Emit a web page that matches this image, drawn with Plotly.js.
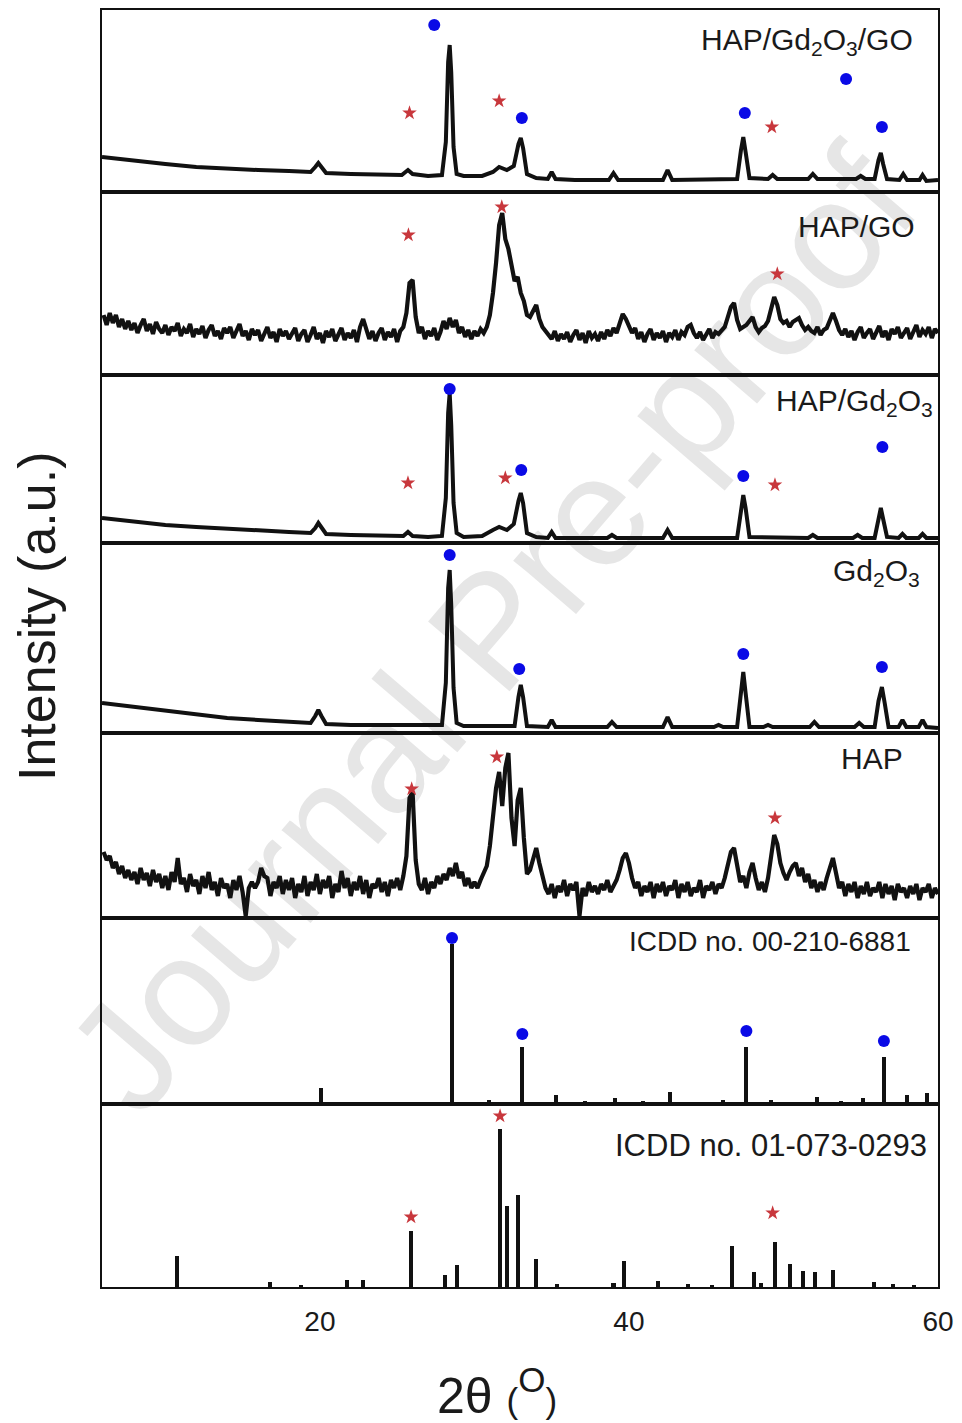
<!DOCTYPE html>
<html><head><meta charset="utf-8">
<script src="https://cdn.plot.ly/plotly-3.0.1.min.js"></script>
<style>html,body{margin:0;padding:0;background:#fff}#chart{width:962px;height:1423px}</style>
</head><body><div id="chart"></div>
<script>
// ---------------- DATA (intensities in arbitrary units) ----------------
const panelLabels = [
  "HAP/Gd<sub>2</sub>O<sub>3</sub>/GO",
  "HAP/GO",
  "HAP/Gd<sub>2</sub>O<sub>3</sub>",
  "Gd<sub>2</sub>O<sub>3</sub>",
  "HAP",
  "ICDD no. 00-210-6881",
  "ICDD no. 01-073-0293"
];
const xTickVals = [20, 40, 60];
const xTickText = ["20", "40", "60"];

// Panel 1: HAP/Gd2O3/GO
const ternary2theta = [5.9,7,8,9,10,12,14,16,18,19.4,19.7,19.9,20.1,20.4,22,24,25.3,25.7,26.0,27,27.9,28.15,28.3,28.4,28.5,28.65,28.85,29.3,30.5,31.2,31.6,32.1,32.55,32.85,33.0,33.15,33.4,34,34.75,35.0,35.25,36.5,38.7,39.0,39.3,42.2,42.5,42.8,45,47.0,47.25,47.4,47.55,47.8,49.0,49.3,49.6,51.6,51.9,52.2,54.7,55.0,55.3,55.9,56.15,56.3,56.45,56.7,57.5,57.75,58.0,58.8,59.0,59.25,60];
const ternaryI = [35,33,31,29,28,25,23,22,21,20,25,29,25,19,18,17,17,22,18,16,17,50,130,147,120,45,18,16,16,20,25,22,26,48,54,44,18,14,13,20,13,12,12,19,12,12,22,12,12,13,42,55,40,14,13,17,13,13,18,13,13,16,13,13,32,39,28,13,12,18,12,12,17,11,12];

// Noisy scans sampled every 0.2 deg starting at 6.0 deg
const scanStart = 6.0, scanStep = 0.2;
// Panel 2: HAP/GO
const hapGoI = [
 60,50,62,52,60,48,56,46,54,45,
 52,42,50,56,44,51,41,53,46,42,
 50,40,48,44,52,39,46,42,51,38,
 46,41,49,37,45,50,39,44,36,47,
 42,48,37,43,51,39,44,35,46,40,
 45,34,42,48,37,43,33,46,39,44,
 36,42,47,34,41,45,33,40,48,36,
 42,32,44,38,46,34,41,47,35,42,
 37,45,33,48,56,46,36,44,34,42,
 47,35,43,38,46,33,44,48,62,92,
 95,58,42,48,36,44,39,47,35,43,
 54,46,57,48,55,42,48,38,45,36,
 44,39,46,42,48,60,82,112,150,162,
 136,126,112,94,98,82,74,60,58,64,
 70,56,48,44,40,36,44,34,41,36,
 43,33,40,45,35,42,32,44,37,41,
 34,43,36,45,39,47,42,52,61,56,
 50,42,47,36,43,33,41,46,35,42,
 37,44,33,42,38,45,35,43,40,48,
 50,42,37,43,35,41,46,37,43,41,
 45,48,58,68,72,55,46,48,50,54,
 58,48,43,47,49,54,66,78,70,56,
 52,54,48,53,55,57,50,45,48,44,
 42,48,40,45,47,56,62,54,45,40,
 46,38,44,35,43,48,37,42,46,36,
 43,49,38,44,35,46,41,48,37,43,
 47,36,44,50,38,45,41,48,37,46,
 42];

// Panel 3: HAP/Gd2O3
const hapGd2theta = [5.9,7,8,10,12,14,16,18,19.4,19.7,19.9,20.1,20.4,22,24,25.4,25.7,26.0,27,27.9,28.15,28.3,28.4,28.5,28.65,28.85,29.3,30.5,31.2,31.6,32.1,32.55,32.85,33.0,33.15,33.4,34.0,34.75,35.0,35.25,38.6,38.9,39.2,42.2,42.5,42.8,47.0,47.25,47.4,47.55,47.8,51.6,51.9,52.2,54.5,54.8,55.1,55.9,56.15,56.3,56.45,56.7,57.45,57.7,57.95,58.75,59.0,59.25,60];
const hapGdI = [25,23,21,18,16,14,13,11,10,15,20,15,9,8,7,7,11,7,6,7,45,130,150,118,40,10,6,7,13,16,13,19,42,50,40,10,6,5,11,5,5,8,5,5,13,5,5,35,48,35,6,5,8,5,5,8,5,5,27,35,24,6,5,9,5,5,9,5,5];

// Panel 4: Gd2O3
const gd2theta = [5.9,7,8,10,12,14,16,18,19.4,19.7,19.9,20.1,20.4,22,24,26,27.9,28.15,28.3,28.4,28.5,28.65,28.85,29.3,31,32.6,32.85,33.0,33.15,33.4,34.75,35.0,35.25,38.6,38.9,39.2,42.2,42.5,42.8,45.5,45.8,46.1,47.0,47.25,47.4,47.55,47.8,48.7,49.0,49.3,51.7,52.0,52.3,54.6,54.9,55.2,55.9,56.15,56.37,56.55,56.8,57.45,57.7,57.95,58.75,59.0,59.25,60];
const gdI = [30,28,26,22,18,15,13,11,10,17,23,17,9,8,8,8,8,50,145,163,128,45,10,7,7,7,36,48,36,7,6,13,6,6,11,6,6,16,6,6,8,6,6,40,61,40,6,6,8,6,6,11,6,6,10,6,6,32,46,30,6,6,13,6,6,13,6,5];

// Panel 5: HAP
const hapI = [
 66,58,62,50,56,44,52,40,48,38,
 46,34,50,38,45,32,48,36,44,30,
 42,28,46,36,60,34,40,26,44,32,
 38,24,42,30,46,28,36,22,40,30,
 34,20,38,28,42,26,2,30,36,30,
 36,50,42,40,22,36,30,42,24,38,
 28,40,20,34,26,42,22,36,28,44,
 24,38,30,42,20,34,26,47,30,40,
 22,36,28,42,24,38,20,34,30,40,
 26,36,22,38,30,40,28,42,62,120,
 126,58,34,28,40,24,36,30,42,34,
 44,38,50,42,55,40,46,32,40,30,
 36,30,38,44,52,72,100,130,146,112,
 150,165,100,72,118,130,80,44,48,60,
 70,55,40,30,24,34,20,32,26,38,
 22,34,28,36,2,30,22,36,26,32,
 24,34,28,38,26,32,38,48,60,65,
 55,40,30,36,22,32,26,36,20,34,
 26,36,22,32,28,38,20,34,26,36,
 22,30,26,38,20,32,28,36,24,34,
 30,40,52,66,70,50,36,42,30,46,
 55,40,28,36,26,40,62,83,74,55,
 45,38,46,52,55,42,50,36,44,30,
 38,26,36,28,40,50,60,45,30,36,
 22,34,26,36,20,32,24,36,22,30,
 26,36,20,34,24,32,18,34,26,30,
 20,32,24,34,18,30,26,34,20,30,
 24];

// Panel 6: ICDD 00-210-6881 (Gd2O3 reference sticks)
const gdRef2theta = [16.28,20.06,23.3,28.55,30.93,33.1,35.25,37.16,39.07,40.94,42.67,46.06,47.6,49.2,50.76,52.2,53.7,55.16,56.5,57.97,59.3];
const gdRefI = [2,16,1,160,4,57,9,3,6,3,12,4,57,4,2,7,3,6,47,9,11];

// Panel 7: ICDD 01-073-0293 (HAP reference sticks)
const hapRef2theta = [10.73,16.77,18.75,21.73,22.8,25.9,28.09,28.88,31.66,32.14,32.85,33.96,35.35,39.0,39.7,41.9,43.85,45.36,46.67,48.07,48.53,49.45,50.45,51.24,52.03,53.2,55.88,57.07,58.45];
const hapRefI = [31,5,2,7,7,56,12,22,158,81,92,28,3,4,26,6,3,2,41,15,4,45,23,16,15,17,5,3,2];

// Phase markers (blue dot = Gd2O3, red star = HAP) per panel
const dots2theta = [[27.4,33.07,47.5,54.05,56.37],[],[28.4,33.03,47.4,56.4],[28.4,32.9,47.4,56.37],[],[28.55,33.1,47.6,56.5],[]];
const dotsY      = [[167,74,79,113,65],[],[154,73,67,96],[178,64,79,66],[],[166,70,73,63],[]];
const stars2theta = [[25.8,31.6,49.25],[25.73,31.77,49.6],[25.7,32.0,49.45],[],[25.94,31.45,49.45],[],[31.66,25.9,49.3]];
const starsY      = [[79,91,65],[140,168,101],[60,65,58],[],[129,161,100],[],[171,70,74]];

// ---------------- LAYOUT / STYLE ----------------
const FONT = "Liberation Sans, Arial, Helvetica, sans-serif";
const INK = "#111111";
const edgesPx = [10, 192, 375, 543, 733, 918, 1104, 1287];
const plotBottomPx = 1287, plotHeightPx = 1277, plotLeftPx = 102, plotWidthPx = 836;
const xRange = [5.9, 60];
const labelX = [58.52, 58.65, 59.8, 58.97, 57.87, 58.4, 59.43];
const labelY = [151, 149, 141, 161, 160, 163, 142];
const labelSize = [30, 30, 30, 30, 30, 28, 31];

const ax = k => (k === 1 ? "" : String(k));
const traces = [];

// smooth scans
[[1, ternary2theta, ternaryI], [3, hapGd2theta, hapGdI], [4, gd2theta, gdI]].forEach(([k, x, y]) => {
  traces.push({type: "scatter", mode: "lines", x: x, y: y, line: {color: INK, width: 4, shape: "linear"},
    xaxis: "x" + ax(k), yaxis: "y" + ax(k), hoverinfo: "skip"});
});
// noisy scans
[[2, hapGoI], [5, hapI]].forEach(([k, y]) => {
  traces.push({type: "scatter", mode: "lines", x0: scanStart, dx: scanStep, y: y,
    line: {color: INK, width: 4.2, shape: "linear"},
    xaxis: "x" + ax(k), yaxis: "y" + ax(k), hoverinfo: "skip"});
});
// reference sticks
[[6, gdRef2theta, gdRefI], [7, hapRef2theta, hapRefI]].forEach(([k, x, y]) => {
  traces.push({type: "bar", x: x, y: y, width: 0.26, marker: {color: INK, line: {width: 0}},
    xaxis: "x" + ax(k), yaxis: "y" + ax(k), hoverinfo: "skip"});
});
// markers
for (let k = 1; k <= 7; k++) {
  if (dots2theta[k-1].length) traces.push({type: "scatter", mode: "markers", x: dots2theta[k-1], y: dotsY[k-1],
    marker: {symbol: "circle", size: 12, color: "#0a0ae6", line: {width: 0}},
    xaxis: "x" + ax(k), yaxis: "y" + ax(k), hoverinfo: "skip", cliponaxis: false});
  if (stars2theta[k-1].length) traces.push({type: "scatter", mode: "markers", x: stars2theta[k-1], y: starsY[k-1],
    marker: {symbol: "star", size: 11, color: "#c8373c", line: {width: 0}},
    xaxis: "x" + ax(k), yaxis: "y" + ax(k), hoverinfo: "skip", cliponaxis: false});
}

const layout = {
  width: 962, height: 1423,
  margin: {l: plotLeftPx, r: 962 - plotLeftPx - plotWidthPx, t: edgesPx[0], b: 1423 - plotBottomPx},
  paper_bgcolor: "#ffffff", plot_bgcolor: "rgba(0,0,0,0)",
  showlegend: false, bargap: 0,
  font: {family: FONT, color: INK},
  annotations: [], shapes: []
};
for (let k = 1; k <= 7; k++) {
  const top = edgesPx[k-1], bot = edgesPx[k];
  const dom = [(plotBottomPx - bot) / plotHeightPx, (plotBottomPx - top) / plotHeightPx];
  layout["xaxis" + ax(k)] = {
    range: xRange, anchor: "y" + ax(k), showline: true, mirror: true, linecolor: INK, linewidth: 2,
    showgrid: false, zeroline: false, ticks: "", fixedrange: true,
    showticklabels: k === 7, tickvals: xTickVals, ticktext: xTickText,
    tickfont: {family: FONT, size: 28, color: "#1a1a1a"}, ticklabelstandoff: 8
  };
  layout["yaxis" + ax(k)] = {
    domain: dom, range: [0, bot - top], anchor: "x" + ax(k), showline: true, mirror: true,
    linecolor: INK, linewidth: 2, showgrid: false, zeroline: false, ticks: "",
    showticklabels: false, fixedrange: true
  };
  layout.annotations.push({
    xref: "x" + ax(k), yref: "y" + ax(k), x: labelX[k-1], y: labelY[k-1],
    xanchor: "right", yanchor: "middle", showarrow: false, text: panelLabels[k-1],
    font: {family: FONT, size: labelSize[k-1], color: "#1a1a1a"}
  });
}
const toPaperX = px => (px - plotLeftPx) / plotWidthPx;
const toPaperY = py => (plotBottomPx - py) / plotHeightPx;
// axis titles
layout.annotations.push({
  xref: "paper", yref: "paper", x: toPaperX(37), y: toPaperY(617), xanchor: "center", yanchor: "middle",
  textangle: -90, showarrow: false, text: "Intensity (a.u.)", font: {family: FONT, size: 52, color: "#1a1a1a"}
});
layout.annotations.push({
  xref: "paper", yref: "paper", x: toPaperX(497), y: toPaperY(1392), xanchor: "center", yanchor: "middle",
  showarrow: false,
  text: '2θ <span style="font-size:35px">(</span><sup>O</sup><span style="font-size:35px">)</span>',
  font: {family: FONT, size: 50, color: "#1a1a1a"}
});
// journal watermark (drawn beneath the data, kept inside the page)
layout.shapes.push({
  type: "line", xref: "paper", yref: "paper", layer: "below",
  x0: toPaperX(89), y0: toPaperY(1075), x1: toPaperX(871), y1: toPaperY(165),
  line: {color: "rgba(0,0,0,0)", width: 0},
  label: {text: "Journal Pre-proof", textposition: "middle", textangle: "auto", yanchor: "middle",
    font: {family: FONT, size: 156, color: "#e6e6e6"}}
});

Plotly.newPlot("chart", traces, layout, {staticPlot: true, displayModeBar: false}).then(gd => {
  // drop the empty placeholder title nodes Plotly leaves for untitled axes
  gd.querySelectorAll("text").forEach(t => { if (!t.textContent.trim()) t.remove(); });
});
</script></body></html>
